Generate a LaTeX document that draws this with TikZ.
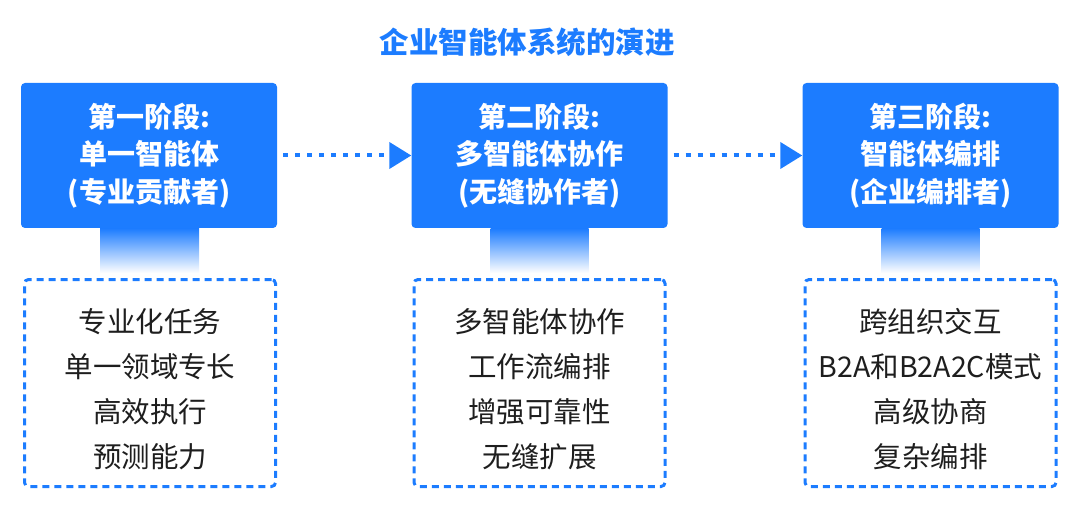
\documentclass[tikz,border=0pt]{standalone}
\usepackage{fontspec}
\setmainfont{Noto Sans CJK SC}
\usetikzlibrary{arrows.meta}
\definecolor{stageblue}{RGB}{28,124,255}
\definecolor{inkgray}{RGB}{30,30,30}

\begin{document}
\begin{tikzpicture}[x=1pt, y=-1pt,
  title/.style={text=stageblue, font=\fontsize{29.5}{32}\selectfont\bfseries},
  stagebox/.style={fill=stageblue, rounded corners=4pt, minimum width=256pt,
    minimum height=145pt, align=center, text=white,
    font=\fontsize{28}{37.5}\selectfont\bfseries},
  featbox/.style={draw=stageblue, line width=3pt, dash pattern=on 7pt off 5pt,
    rounded corners=4pt, minimum width=251pt, minimum height=207pt},
  feattext/.style={align=center, text=inkgray, font=\fontsize{28.5}{45}\selectfont},
  flow/.style={stageblue, line width=4pt, dash pattern=on 5pt off 7pt,
    shorten <=6pt, -{Triangle[length=22pt,width=26pt]}},
  fade/.style={top color=stageblue, middle color=stageblue!65, bottom color=white}]
  \useasboundingbox (0,0) rectangle (1080,508);

  % title
  \node[title] (head) at (527,42) {企业智能体系统的演进};

  % stages
  \node[stagebox] (s1) at (149,155.5) {第一阶段:\\单一智能体\\(专业贡献者)};
  \node[stagebox] (s2) at (539.5,155.5) {第二阶段:\\多智能体协作\\(无缝协作者)};
  \node[stagebox] (s3) at (930.5,155.5) {第三阶段:\\智能体编排\\(企业编排者)};

  \draw[flow] (s1.east) -- (s2.west);
  \draw[flow] (s2.east) -- (s3.west);

  % features
  \node[featbox] (f1) at (150,383) {};
  \node[featbox] (f2) at (539.5,383) {};
  \node[featbox] (f3) at (930.5,383) {};

  \node[feattext] (t1) at ([yshift=-6pt]f1.center) {专业化任务\\单一领域专长\\高效执行\\预测能力};
  \node[feattext] (t2) at ([yshift=-6pt]f2.center) {多智能体协作\\工作流编排\\增强可靠性\\无缝扩展};
  \node[feattext] (t3) at ([yshift=-6pt]f3.center) {跨组织交互\\B2A和B2A2C模式\\高级协商\\复杂编排};

  % links between stage and features
  \foreach \n in {1,2,3}
    \shade[fade] ([xshift=-49pt]s\n.south) rectangle ([xshift=49pt,yshift=5pt]f\n.north);
\end{tikzpicture}
\end{document}
